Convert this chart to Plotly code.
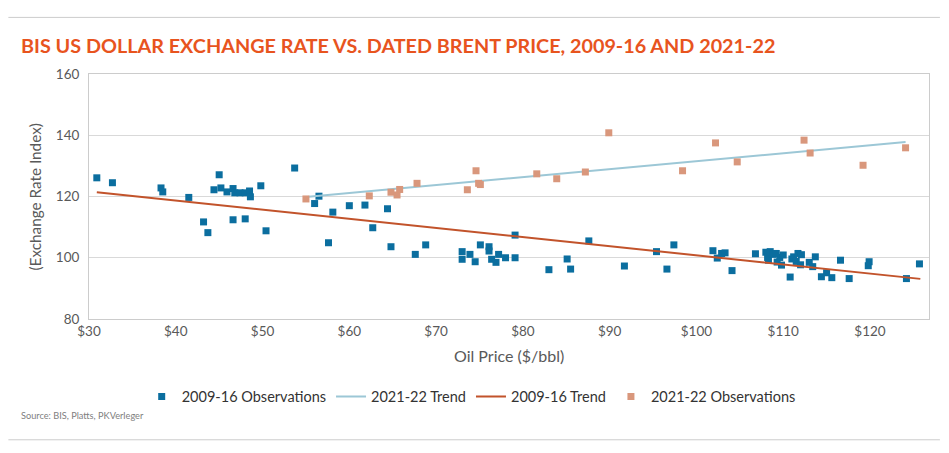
import plotly.graph_objects as go

# 2009-16 observations (oil price $/bbl, exchange rate index)
obs_0916_x = [30.9, 32.7, 38.3, 38.5, 41.5, 43.2, 43.7, 44.4, 45.0, 45.2, 45.9, 46.6, 46.6, 46.8,
              47.4, 48.0, 48.0, 48.5, 48.6, 49.8, 50.4, 53.7, 56.0, 56.5, 57.6, 58.1, 60.0,
              61.8, 62.7, 64.4, 64.8, 67.6, 68.8, 73.0, 73.0, 73.9, 74.5, 75.1, 76.1, 76.1,
              76.4, 76.9, 77.2, 78.0, 79.1, 79.1, 83.0, 85.1, 85.5, 87.6, 91.7, 95.4,
              96.6, 97.4, 101.9, 102.4, 102.9, 103.3, 104.1, 106.8, 108.0, 108.2, 108.3, 108.5,
              108.8, 109.2, 109.3, 109.6, 109.8, 110.0, 110.8, 111.0, 111.2, 111.5, 111.7, 112.1,
              112.0, 113.0, 113.4, 113.7, 114.4, 115.0, 115.6, 116.6, 117.6, 119.8, 119.9,
              124.2, 125.7]
obs_0916_y = [126.1, 124.5, 122.8, 121.5, 119.7, 111.7, 108.2, 122.2, 127.1, 122.8, 121.5, 112.4, 122.6, 121.2,
              121.2, 112.7, 121.2, 121.8, 119.9, 123.5, 108.8, 129.3, 117.7, 120.1, 104.9, 114.9, 117.0,
              117.2, 109.8, 116.0, 103.6, 101.1, 104.2, 102.0, 99.5, 101.1, 98.7, 104.2, 103.6, 102.2,
              99.5, 98.5, 101.1, 100.0, 107.4, 100.0, 96.1, 99.6, 96.3, 105.5, 97.3, 102.0,
              96.3, 104.2, 102.3, 99.9, 101.4, 101.6, 95.8, 101.3, 101.8, 100.1, 99.2, 102.0,
              101.1, 101.4, 98.6, 100.1, 97.6, 100.9, 93.7, 99.6, 100.3, 98.8, 101.4, 101.0,
              97.7, 98.5, 97.1, 100.3, 93.8, 95.1, 93.5, 99.2, 93.2, 97.4, 98.7,
              93.2, 98.0]

# 2021-22 observations
obs_2122_x = [55.0, 62.3, 64.8, 65.5, 65.8, 67.8, 73.6, 74.6, 74.9, 75.1, 81.6, 83.9, 87.2, 89.9,
              98.4, 102.2, 104.7, 112.4, 113.1, 119.2, 124.1]
obs_2122_y = [119.2, 120.2, 121.4, 120.5, 122.3, 124.3, 122.2, 128.4, 124.3, 123.9, 127.4, 125.8, 128.0, 140.8,
              128.4, 137.5, 131.3, 138.4, 134.2, 130.2, 135.9]

# Trend lines (endpoints)
trend_0916_x = [30.9, 125.8]
trend_0916_y = [121.4, 93.1]
trend_2122_x = [55.3, 124.1]
trend_2122_y = [119.9, 137.8]

x_ticks = [30, 40, 50, 60, 70, 80, 90, 100, 110, 120]
x_tick_labels = ["$30", "$40", "$50", "$60", "$70", "$80", "$90", "$100", "$110", "$120"]
y_ticks = [80, 100, 120, 140, 160]

BLUE = "#0B6E9F"
ORANGE = "#D9977C"
LIGHTBLUE = "#9CC7D6"
RUST = "#C2532B"
GRID = "#D9D9D9"
TXT = "#595959"

fig = go.Figure()
fig.add_trace(go.Scatter(x=obs_0916_x, y=obs_0916_y, mode="markers", name="2009-16 Observations",
                         marker=dict(symbol="square", size=7, color=BLUE)))
fig.add_trace(go.Scatter(x=trend_2122_x, y=trend_2122_y, mode="lines", name="2021-22 Trend",
                         line=dict(color=LIGHTBLUE, width=2)))
fig.add_trace(go.Scatter(x=trend_0916_x, y=trend_0916_y, mode="lines", name="2009-16 Trend",
                         line=dict(color=RUST, width=2)))
fig.add_trace(go.Scatter(x=obs_2122_x, y=obs_2122_y, mode="markers", name="2021-22 Observations",
                         marker=dict(symbol="square", size=7, color=ORANGE)))

# page body has an 8px default margin, so the figure is sized to fit the window
fig.update_layout(
    width=941, height=445,
    margin=dict(l=81, r=20, t=66, b=134),
    paper_bgcolor="white", plot_bgcolor="white",
    font=dict(family="Lato", color=TXT),
    showlegend=True,
    legend=dict(orientation="h", x=0.455, xanchor="center", y=-0.317, yanchor="middle",
                font=dict(size=14.5, color="#333333"), itemwidth=30, traceorder="normal"),
    annotations=[
        dict(text="<b>BIS US DOLLAR EXCHANGE RATE VS. DATED BRENT PRICE, 2009-16 AND 2021-22</b>",
             xref="paper", yref="paper", x=-0.083, y=1.12, xanchor="left", yanchor="middle",
             showarrow=False, font=dict(family="Lato", size=19.8, color="#E8541E")),
        dict(text="Source: BIS, Platts, PKVerleger", xref="paper", yref="paper",
             x=-0.083, y=-0.395, xanchor="left", yanchor="middle", showarrow=False,
             font=dict(family="Lato", size=9.2, color="#808080")),
        dict(text="Oil Price ($/bbl)", xref="paper", yref="paper", x=0.5, y=-0.151,
             xanchor="center", yanchor="middle", showarrow=False,
             font=dict(family="Lato", size=16, color=TXT)),
        dict(text="(Exchange Rate Index)", xref="paper", yref="paper", x=-0.0643, y=0.5,
             xanchor="center", yanchor="middle", textangle=-90, showarrow=False,
             font=dict(family="Lato", size=15.3, color=TXT)),
    ],
    shapes=[
        dict(type="line", xref="paper", yref="paper", x0=-0.096, x1=1.013, y0=1.231, y1=1.231,
             line=dict(color="#CCCCCC", width=1)),
        dict(type="line", xref="paper", yref="paper", x0=-0.096, x1=1.013, y0=-0.493, y1=-0.493,
             line=dict(color="#CCCCCC", width=1)),
    ],
)
fig.update_xaxes(range=[30, 126.8], tickvals=x_ticks, ticktext=x_tick_labels,
                 showgrid=False, zeroline=False, showline=True, linecolor="#CCCCCC", mirror=True,
                 ticks="", tickfont=dict(size=13.5, color=TXT))
fig.update_yaxes(range=[80, 160], tickvals=y_ticks,
                 showgrid=True, gridcolor=GRID, zeroline=False, showline=True, linecolor="#CCCCCC",
                 mirror=True, ticks="", ticklabelstandoff=6, tickfont=dict(size=13.5, color=TXT))

fig.write_html("out.html")
